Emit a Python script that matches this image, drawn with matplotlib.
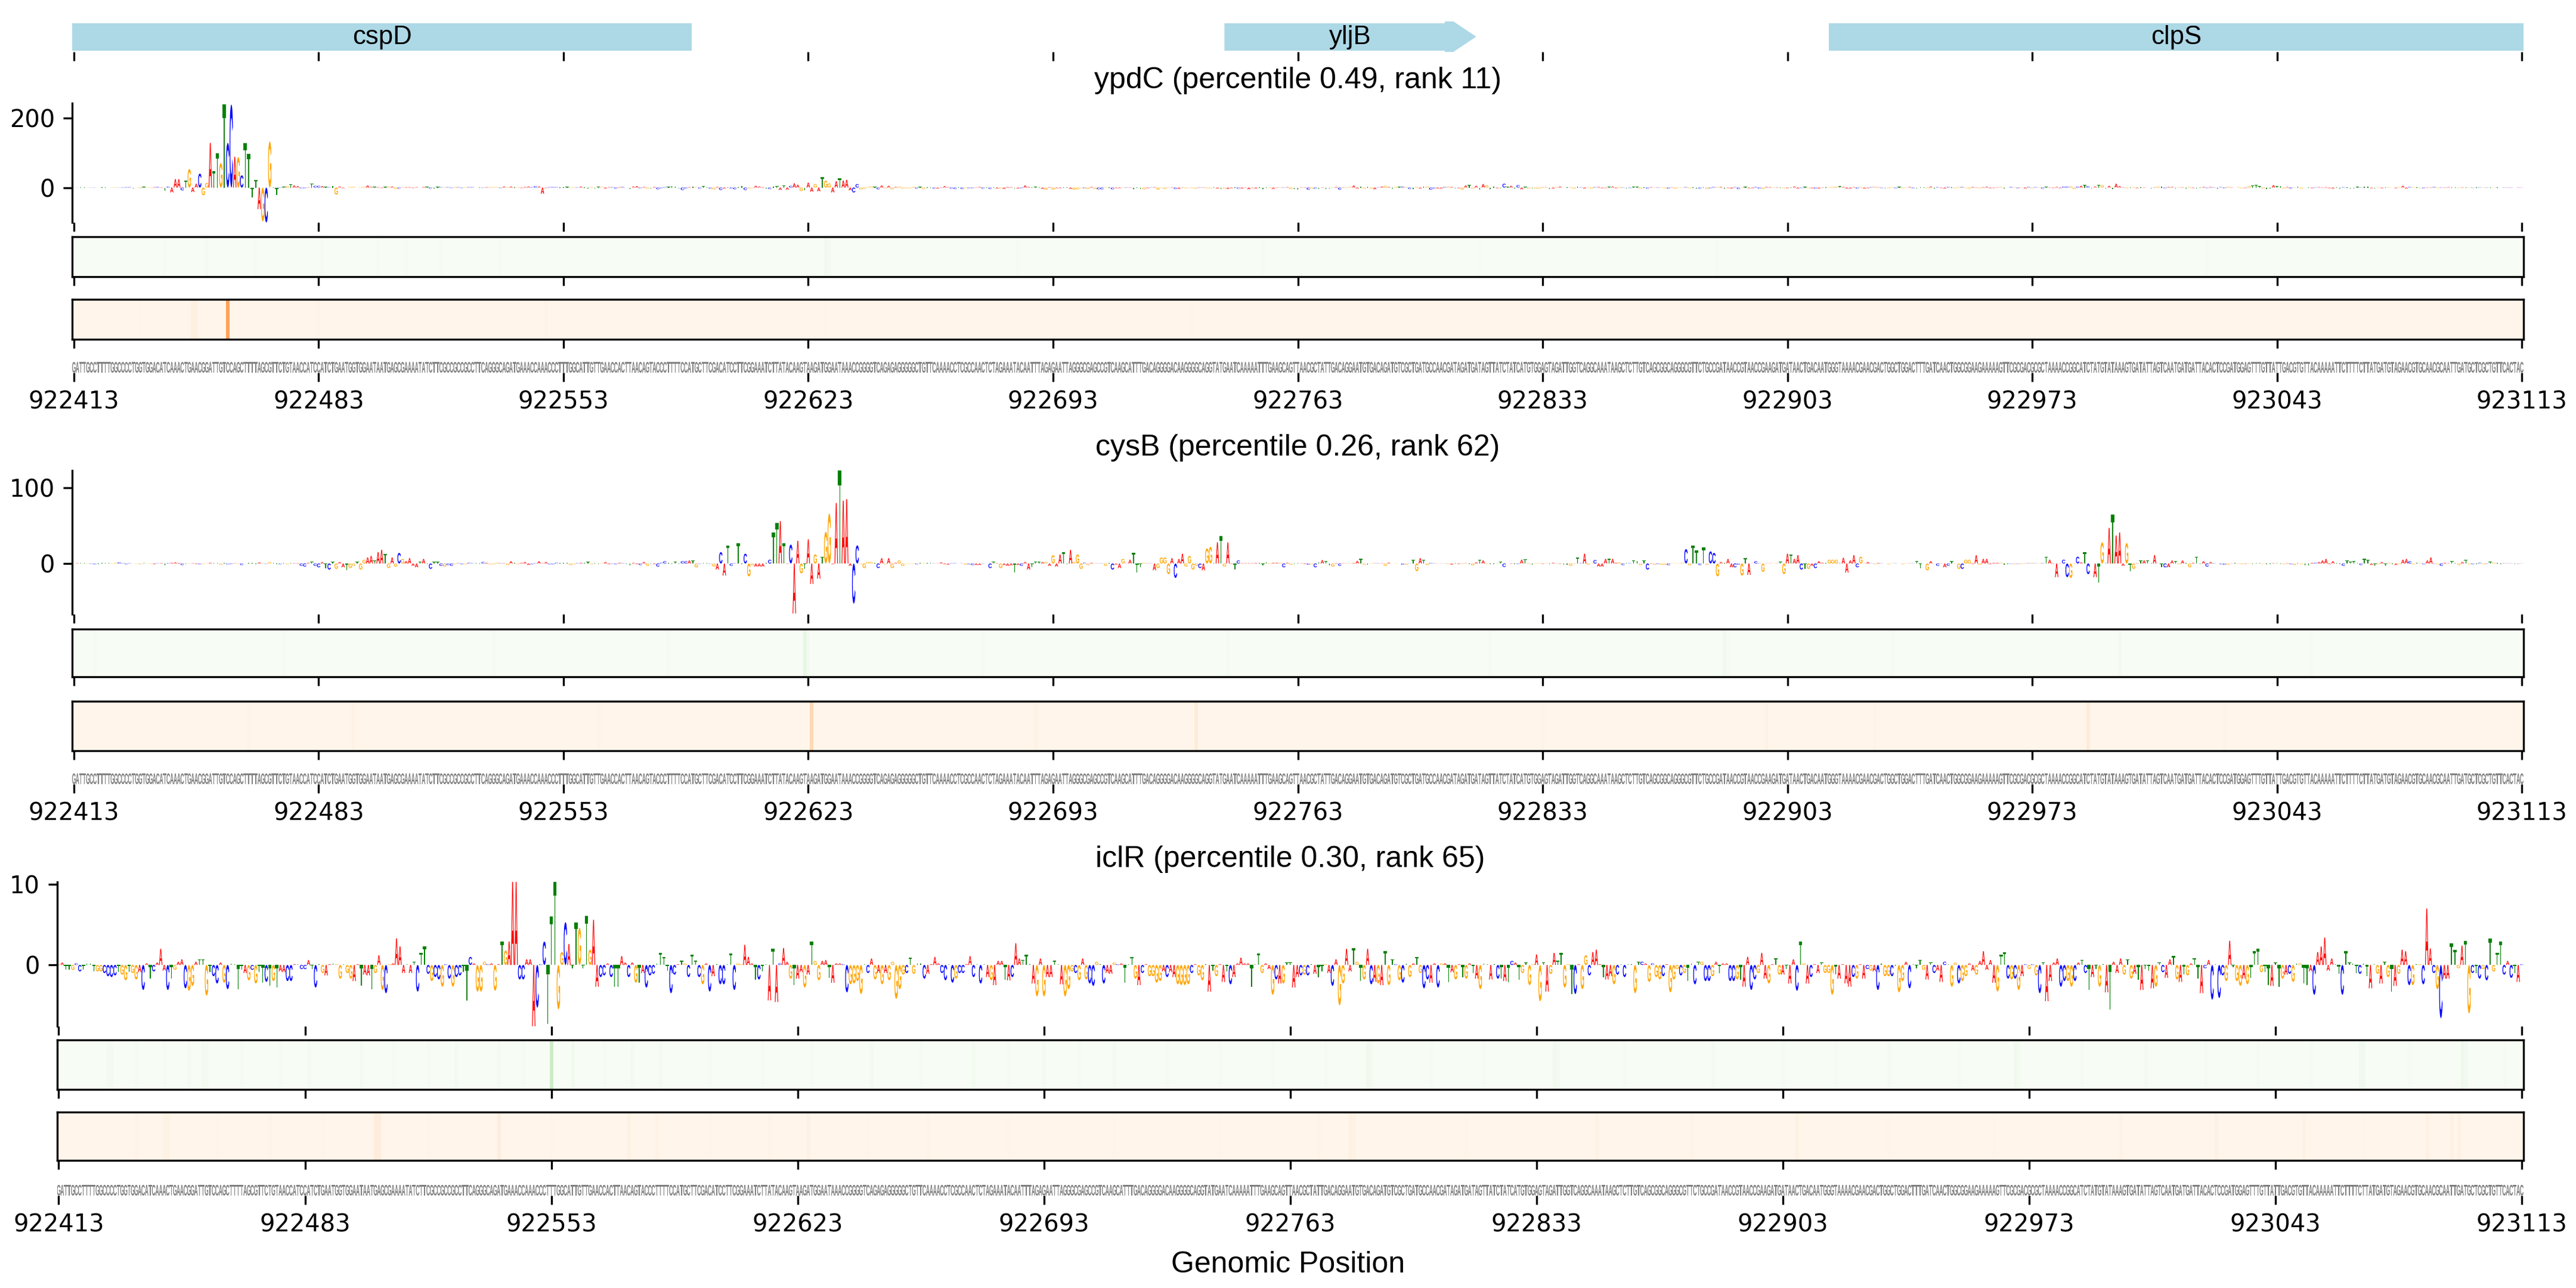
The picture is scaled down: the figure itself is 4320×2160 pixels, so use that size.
import numpy as np
import matplotlib
matplotlib.use("Agg")
import matplotlib.pyplot as plt
from matplotlib.font_manager import FontProperties
from matplotlib.patches import PathPatch, Polygon
from matplotlib.textpath import TextPath
from matplotlib.transforms import Affine2D

W, H = 4320, 2160
START = 922413
tick_pos = list(range(0, 701, 70))
tick_labels = [str(START + p) for p in tick_pos]

# genes (positions relative to window start)
gene_names = ["cspD", "yljB", "clpS"]
gene_start = [-0.5, 329, 501.8]
gene_end = [176.7, 401, 700.5]
gene_arrow = [False, True, False]

seq = (
    "GATTGCCTTTTGGCCCCTGGTGGACATCAAACTGAACGGATTGTCCAGCTTTTAGCGTTCTGTAACCATC"
    "CATCTGAATGGTGGAATAATGAGCGAAAATATCTTCGCCGCCGCCTTCAGGGCAGATGAAACCAAACCCT"
    "TTGGCATTGTTGAACCACTTAACAGTACCC"
    "TTTTCCATGCTTCGACATCCTTCGGAAATCTTATACAAGT"
    "AAGATGGAATAAACCGGGGTCAGAGAGGGGGCTGTTCAAAACCTCGCCAACTCTAGAAATACAATTTAGA"
    "GAATTAGGGCGAGCCGTCAAGCATTTGACAGGGGACAAGGGGCAGGTATGAATCAAAAATTTGAAGCA"
    "GTTAACGCTATTGACAGGAATGTGACAGATGTCGCTGATGCCAACGATAGATGATAGTTATCTATCATGT"
    "GGAGTAGATTGGTCAGGCAAATAAGCTCTTGTCAGCGGCAGGGCGTTCTGCCGATAACCGTAACCGAAGA"
    "TGATAACTGACAATGGGTAAAACGAACGACTGGCTGGACTTTGATCA"
    "ACTGGCGGAAGAAAAAGTTCGCGACGCGCTAAAACCGGCATCTATGTATAAAGTGATATTAGTCAATGAT"
    "GATTACACTCCGATGGAGTTTGTTATTGACGTGTTACAAAAATTCTTTTCTTATGATGTAGAACGTGCAA"
    "CGCAATTGATGCTCGCTGTTCACTAC"
)

ypdc_vals = [
    .3, .3, .3, .3, .5, .5, .5, -.5, .8, .8,
    -.5, .8, 1, -.5, 1, 1.5, 1.5, -3, .5, -2,
    2, -.8, -1, 1.5, 2, -1, -9, 3, -14, 24,
    24, -8, 19, 53, -13, 11, 40, -22, 13, 128,
    47, 98, 70, 238, 128, 238, 88, 87, 35, 128,
    96, -28, 22, -62, -97, -100, 132, .5, -22, 1,
    2, 4, 10, 6, 4, -2, -2, 1, 12, 5,
    5, 4, 2, 1.5, 5, -20, 3, -2, -1.5, 2,
    2, -1.5, 1.5, 2, 6, 2, 2, 1.5, -1.5, 2,
    3, 3, -4, -3, 2, 1.5, 1.5, -1.5, 1.5, -1.5,
    2, 2, -3, -2, 2, 1.5, 1.5, 1.5, -1.5, 2,
    1.5, -1.5, 1.5, 1.5, 1.5, -1.5, 1.5, -1, 1.5, 1.5,
    1.5, 1.5, -1.5, 3, 1.5, 3, 1.5, 1.5, -1.5, 2,
    3, 1.5, 4, 3, -18, -1.5, 1.5, 2, 1.5, 1.5,
    1.5, 2, -1.5, 1.5, 1, 3, 1.5, -3, 1.5, -2,
    2, 2, -3, 1.5, 1.5, -3, 1.5, 2, -1.5, -4,
    3, 4, -2, 2, -3, -3, 2, -5, -2, 1.5,
    2, 5, 3, -3, -7, -3, 1.5, 3, 1.5, -3,
    4, 1.5, -3, -5, 2, -7, -3, 1.5, -3, -5,
    1.5, 5, -7, -3, -1.5, 5, 3, 1.5, -3, -4,
    3, 4, -7, 6, -6, 5, 12, 8, -10, -8,
    14, -12, 10, -11, 30, 20, 12, -14, 18, 26,
    20, 22, -8, -14, 10, -5, -4, 2, 3, 2,
    -5, 6, -2, 5, -5, 2, 3, -3, -2, -2,
    2, -3, 2, -4, 1.5, 1.5, -3, -3, 1, 4,
    1.5, -3, -4, 1, -4, -2, -2, -2, 1, 2,
    -3, 1, -4, 1, -3, -3, -4, 2, 1.5, -3,
    -3, -2, 6, 2, 1.5, 2, 1, -4, -6, 1.5,
    -6, -2, -2, 1.5, 1, -4, -6, -5, -1.5, -2,
    -4, 2, -4, -5, -5, 1, 1, -5, -2, -2,
    1, 1, 1, -4, 1, -4, -5, -2, 1, 1.5,
    -6, -1.5, -4, 1, 1, -4, -4, 1, -2, 1,
    -2, -3, 1, 1, -2, -2, 1, -3, -4, -3,
    -4, -2, 1, -3, -3, 1, -5, -1.5, -3, 1,
    -4, 1, -1.5, -4, 1, 1.5, 1, 1.5, -4, -4,
    -6, 1, 1, -6, -3, -3, -4, 1, -4, -2,
    1, 2, -6, 1, 1.5, 2, 6, -3, 3, -3,
    3, -3, -5, 1, 3, 5, 2, -3, 2, 2,
    3, 2, -4, -4, 2, -3, 3, 3, -6, -3,
    -3, -3, 2, 3, 2, -2, -2, -6, 6, 8,
    -3, 5, -6, 10, 7, -5, 3, -2, -2, 11,
    2, 5, -3, 7, -5, 2, -3, -2, -3, -3,
    1, 2, -5, -3, 2, 3, -1.5, 1, 1.5, -3,
    3, 1, -3, 1.5, -3, 1.5, 2, -2, -1.5, 2,
    3, -2, 2, 1, -3, -1.5, 2, 2, -3, 1,
    -3, 1.5, 1, 1, 1, -2, -3, 1, -3, 1,
    1, 1.5, -2, 1, -3, -3, 1.5, -4, -2, 2,
    1.5, 2, -2, -1.5, -3, 1.5, -4, 1, 2, -2,
    -2, 2, -3, -4, 2, 1.5, 1, 1, 1.5, -2,
    -2, 1.5, 3, -3, -1.5, 2, -2, -2, -3, -3,
    1, 1.5, 1.5, 2, 3, 4, 2, -3, -3, 1.5,
    -3, 2, -3, -2, 1.5, 3, 1, -1.5, -2, -2,
    1.5, -2, 2, -2, 1, 2, -2, -3, 1.5, 1,
    -2, 3, -2, 1.5, -1.5, -3, 2, 1, -2, 2,
    2, -1.5, -3, 2, 1, -2, 1.5, 2.5, -2, -1.5,
    1, 2, -2.5, -1.5, 2, 1.5, -2, 1, -3, 2,
    -2, 1.5, 1, -3, 2, 1, -1.5, 2, -2, 3,
    3, 4, -4, 3, 5, 7, 4, -3, 3, 8,
    7, -3, 5, -4, 11, 4, 1, -2, 1.5, 1.5,
    -2, 1.5, 1, -1.5, -2, 1, 3, 3, -2, 2,
    2, -2, 1.5, 1, -2, 2, -1.5, -2.5, 1, 2,
    -1.5, 2, 1, -2, 1.5, -2, 2.5, 1, -1.5, 1.5,
    -2, -1.5, 4, 6, 8, 4, -3, -5, -3, 7,
    4, 5, -3, 2, -3, 1, 3, -3, -1.5, 1,
    -2, 1, 1.5, 1, 1.5, -2, -3, 1, -2, 1.5,
    1.5, -2, -3, 2, 1, 3, 3, -2, -2, 1.5,
    -2, 1, 1.5, -1.5, -2, 1.5, 5, -3, 2, 1.5,
    1, -1.5, -2, 1, 1, 2, -1.5, 1, 1, 1.5,
    1, 1, -1.5, 1, 1, 1, -1, 1, 1, .8,
    -.8, .8, .8, .8, -.8, .8, .8, .8, -.8, .8,
    .5,
]

cysb_vals = [
    .3, .5, .8, 1, .5, -.5, -1, -.5, 1, 1,
    .5, -.5, 1, 1.5, .5, -1, .5, .4, -.5, -1,
    .5, .3, -.6, -1, .4, .6, -2, .6, 1, 1.5,
    .8, -2, -1, .3, .5, -.8, -1, -.6, .4, 1,
    1, .5, -1.5, .5, -1, -.8, .4, -.6, -2, .4,
    1, .8, -1, 1.5, .5, -.5, 2, .6, -.5, -1,
    .5, -1, 1, .5, .5, -3, -4, 1, 2, -3,
    -5, 2, -6, -8, 2, -7, 2, -5, -9, -6,
    -3, 2, -8, 5, 8, 10, 4, 15, 18, 13,
    -6, 8, -4, 14, 6, 3, 7, -3, -5, 2,
    6, -1, -7, 2, 2, -3, -4, -2, -3, -1,
    .5, -1, -1, 1, .5, .5, -1, 2, 1, -1,
    -1, 1, .5, .5, -2, 3, .5, -1, 1, 2,
    -2, -1, .5, 3, .5, 2, -1, -1, 1, .5,
    1, 1, -2, -1, .5, 1, 1, 2, -1, 1,
    -1, .5, 2, -1, -.5, -1, 1, .5, -1, -2,
    1, -1, -2, 2, -3, -1, -1, -4, 1, 3,
    1, -1, 2, -.5, 3, 3, 4, 4, -5, -.5,
    .5, .5, -.4, -4, -8, 15, -16, 24, -3, .5,
    27, -1, 13, -17, -2.5, -4, -4, -4, .5, 5,
    41, 54, 56, 27, -.5, 25, -66, 30, -13, -7,
    32, -27, 12, -20, 9, 42, 66, -1, 80, 123,
    83, 85, -3, -53, 24, -1, -6, 2, 2, 1,
    -6, 7, -1, 7, -6, 1, 4, -3, -.5, -.5,
    -.5, -1, 1, .5, .5, .5, .3, .3, 1.5, -1,
    -1.5, .5, .5, .3, .3, -1.5, -1, -2, -2, -2,
    .3, .3, -6, 2, .5, -6, -2, -3, -2.5, -12,
    -2, -3, 2, -8, -5, 2, 2, 2, 2, -3,
    11, -4, 12, 15, -1, 18, 2, 12, -7, 1,
    -2, 1, .5, .3, .3, -3, 1, -8, -1.5, -6,
    6, .3, 5, 14, -12, -5, 1, .3, .3, -9,
    -6, 8, 8, -14, 7, -19, 6, 13, -4, 10,
    -8, -3, -6, -9, 20, 22, .5, 28, 36, -4,
    28, -.5, -8, 4, .5, .5, .5, .5, .8, .5,
    -2.5, 1.5, -.8, 1, 1, 1, -5, 1, -1.5, -1,
    .5, .4, -.8, -1.5, -1, -5, 1.5, 4.5, 3, -2,
    -4, .6, -3, .4, .5, .5, .7, 3.5, 6, -1.5,
    -1.5, .4, .4, .4, .4, -3, 1.2, .3, .3, .3,
    -1.5, -1.5, .3, 5, -10, 7, 5, -2, .8, .4,
    .2, .2, .2, -.9, -1.5, .6, -.8, -.8, .4, -.8,
    -2.5, 1.5, 5, 4, -.7, -.7, -.8, .2, 2, -4.5,
    .2, -.5, -1, -.7, 5, 5.5, -.8, -1.5, .5, .5,
    -.6, .5, -1, 1, -.6, -.6, -1.8, -1.5, -3, -.7,
    8, .5, 13, -1.5, .3, 4.5, -4, -4, 6, 6,
    6, 1, 1.5, -2, .5, .5, 4, 3.5, -2, 4,
    -8, .5, -1.5, -.8, -1.5, -1.5, -2, .2, .3, .4,
    1, 19, -2.5, 24, 17, -2, 21, -1.5, 16, 14,
    -17, 2, .7, 6, -5, -5, -1.5, -16, 7, -15,
    .2, 3, .4, -11, .3, .3, .3, .3, 2, -14,
    13, 12, 6, 11, -8, -7, -7, -3, -6, 3,
    1, .5, 5, 5, 5, 1, 7.5, -12, 4, 11,
    -5, 9, .3, 2, .3, -1, .8, .3, .3, -1,
    .4, .3, .3, -1, .3, .3, .3, 3, -6, .3,
    -9, 3, .3, -3, .3, -5, -3, 3, .3, -7,
    -7, 5, 5, -.8, 11, -1.5, 6, 6, -1, 1,
    1, 1, -1.5, -1, -.5, -1, -.5, -.8, .3, .5,
    1, .3, .4, .5, 9, 5, -.5, -18, .3, 5,
    -18, -19, -.5, 9, 1.5, 15, -14, .2, -18, -25,
    28, 1, 47, 65, 37, 41, -3, 27, -10, -7,
    .5, 4, 4, 4, .5, 11, .3, -5, -5, -5,
    4, 3, -1, 4, .5, -5, 1, 9, -.5, 3,
    -4, 2, .5, .3, -1, -1.5, -1.5, .3, .5, .5,
    -1, -.5, .5, -1, .5, .6, -.6, -1, -1, .5,
    .5, -1, -1, .5, -1, -2, 1, -1, -2, -2,
    1, 1, 2, 4, 6, -1, 3, .5, -1, -3,
    4, 2, 3, .5, -2, 6, 5, -2, -3, -1,
    2, -3, 1, -1, -2, -1, 5, 6, 3, -1,
    1, .5, -1, 4, 8, -.5, -1, -3, 1, .5,
    3, 1, -2, 2, 5, -1, -1, -1, 1, -1,
    -.5, 2, 1, .5, -1, .4, .3, .3, -1, -.4,
    .2,
]

iclr_vals = [
    .1, .3, -.6, -.6, -.6, .2, -.8, -.6, .2, .2,
    -.8, -.8, -.8, -1, -1.4, -1.5, -1.3, -.9, -1.2, -1.9,
    -.9, -1, -1.8, -.9, -3.1, .2, -1.7, -.8, .3, 2,
    -.7, -3.1, -1.7, -.6, .4, .7, -2.9, -3.2, -2.6, .4,
    .7, .7, -3.8, -.9, -1.4, -2.3, .3, -2.2, -3, .2,
    .1, -3, -.6, -1, -1.9, -.6, -2.3, -.9, -2.2, -2.1,
    -2.6, -2, -2.8, -.8, -.9, -2, -2, .1, .1, -.5,
    -.5, .6, -.5, -2.8, .1, -1, -1.3, .1, .2, .1,
    -1.7, .1, -1, -1.7, -2, .1, -2.6, -1.2, -1.3, -3,
    -1, 1.2, -3.1, -3.5, .1, .2, 3.3, 2.3, -1, .1,
    -1, .4, -3.3, 1.5, 2.3, -1.1, -2, -1.5, -1.8, -2.7,
    .1, -1.7, -2.7, -1.5, -1.3, -.9, -4.4, 1, .2, -3.3,
    -3.3, .4, .1, .2, -3.2, .1, 2.9, 1.8, 2.9, 10.3,
    10.3, -1.8, -1.8, .7, .7, -7.6, -5.3, .1, 2.9, -7.3,
    6, 10.3, -5.5, 1.6, 5.3, 2.6, -.4, 5.3, 4.6, -.4,
    6.1, 1.9, 5.6, -2.7, -1.5, -1.3, .2, -1.5, -2.7, -2.7,
    1.1, .3, -1.5, .3, -2.2, -2.2, -1, -2.8, -1.3, -1.1,
    .2, 1.5, 1, -.7, -3.5, -1.2, .1, .5, .2, -1.5,
    1.3, .5, -1.5, -2.4, .2, -3.3, -1.4, .1, -2.4, -2.4,
    .1, 1.4, -3.1, .2, .1, 2.5, 1, .2, -1.8, -1.8,
    -.8, .1, -4.4, 2, -4.6, .2, 2.1, .4, -1.7, -2.5,
    -1.7, -.9, -2.8, -1.2, 2.9, .5, -1.9, .5, .6, -1.6,
    -2.2, .2, .2, .1, -3.4, -2.4, -2.3, -2, -3.6, .1,
    -1, .8, -1.8, -1, -2.4, -1, -1.9, .4, -4.2, -3,
    -1.2, -1, .9, -1.1, .2, .2, -1.7, -1.1, .1, 1,
    .2, -1, -1.9, .1, -2.2, -1.7, -1, -1, .1, 1.1,
    -1.5, .1, -2.3, .1, -1.5, -1.9, -2.5, .5, .5, -1.8,
    -1.9, -1.5, 2.7, .8, .6, 1.3, .1, -2.3, -3.9, .8,
    -3.9, -1.5, -1.5, .5, .1, -2.4, -3.9, -3, -.8, -1,
    -1.9, .8, -1.8, -2.3, -2.6, .4, .1, -2.3, -1, -1.1,
    .3, .1, .2, -2.2, .1, 1, -1.7, -2.5, -1, .1,
    -1.4, -1.4, -2.2, -2, -.8, -1.5, -.9, -1.5, -2.4, -2.5,
    -2.5, -2.4, -1, .1, -1.3, -1.9, .1, -3.3, -.7, -1.4,
    .1, -2.1, -.8, -2.4, -1.5, .2, .9, .2, .2, -2.7,
    .1, 1.4, -1, .2, -.5, -3.7, -1.8, -2.3,
    -2.3, .3, .3, -2.8, -1.5, -1.3, -1.2, -1.3, .1, -1.1,
    -1.5, -.8, .1, -1, -2.6, .7, -5, -2.3, 2, -.8,
    2.1, .4, -2, -1.8, 2, -2.4, -2.1, -2.3, -2.5, 1.7,
    -2.5, .7, .1, -1.9, -2.2, .2, -1.5, .2, 1, -1,
    -2.9, -1.8, -2.2, .2, -2.8, .2, .2, -2.1, -.9, -1.8,
    .1, -1.5, -1.7, .2, -1, -1.7, -3, .2, .1, -1.8,
    .1, -1.7, -1.7, -2, -2.1, .5, .3, -1.8, -1, .3,
    -2.5, .1, 1.3, -4.5, .3, -3.3, -1.1, 1.5, .5, 1.5,
    -2.8, .1, -3.6, -3.6, .1, -3, 1.2, -1.3, 1.6, 1.9,
    .1, -1.5, -1.8, -1.4, -2.4, -1.2, .1, -1.5, .1, .1,
    -3.5, .4, .4, .2, -2.1, .2, -1.5, -1.8, -1.4, .1,
    -3.4, -1.8, -.5, -1.3, -1, -2, .2, -2.4, .4, .4,
    -2, -2, -1.4, .4, -1, .2, .2, -2, -2, -1.8,
    -1.8, -2.7, 1, -3.1, -1.8, -1, 1.5, -1.7, -2.3, .1,
    .8, -1.2, -1.2, -.5, -2.3, .7, -3.2, 2.9, .2, -2.3,
    -1.5, .1, -1, .3, -1, -1, -3.7, -1.2, -1.7, .1,
    -2.3, -2.7, -1.5, -1.7, .1, -1.7, -.5, -.7, -.8, -3.1,
    .2, -1.4, -1.4, -1.4, -.1, -3.4, -2, .4, -2.9, .1,
    -.4, .6, -.6, -1.8, .3, -1, -.7,
    -2.1, .4, .1, -2.7, .3, -2.3, -2, -1.4, .2, -.7,
    -1.2, .5, 1.7, -.6, .6, -2.2, -3.3, 1.3, 1.6, -1.7,
    -1.8, -1.7, -3.1, -1.4, .1, -.5, .1, -1.3, -3.5, .3,
    -4.5, -2, .3, .8, -2.7, -2, -2, -2.7, -2, .3,
    .6, -1, -3.1, -1.5, -.5, -2.7, .1, -3.4, -5.5, .4,
    -1, .8, -1.2, .7, -1.7, -1.1, -1.8, -3.1, -.5, -.7,
    -2.9, -2.7, .3, -.9, -1.6, .7, 1.1, -1.8, -2.1, -1.2,
    -1.3, .2, .8, -1.7, -3.5, -.4, .6, -4.3, .1, -4.1,
    -1.3, -2, 3, -.3, -2, -2.6, -1.7, -2.4, -1.6, 1.7,
    2, -.9, -.9, -2.5, -2.6, .3, -2.7, -1.7, -1.2, -1.1,
    -2.1, .2, .2, -2.3, -2.5, -.8, -3.7, 1.6, 2.3, 3.4,
    -.7, .8, .1, -1.1, -3.7, 1.7, .3, .2, -1, -1.1,
    .2, -1.4, -2.9, .1, -1.1, -2.3, .4, -1.5, -3.3, -2.6,
    -1.1, 1.9, 1.7, -2.5, -2.5, .1, .1, -2.4, 7, 2.05,
    -1, -3, -6.6, -1.7, -1.7, 2.7, 1.9, -.4, 2.4, 3,
    -6, -1, -1, -1.7, -.5, -1.9, 3.3, -.8, 1.5, 2.9,
    -1.2, .5, -1.6, -1, -2.1, .1,
]

# heatmap stripes: positions and colour strength, everything else sits at zero
ypdc_green_pos = [26, 38, 52, 71, 87, 95, 105, 122, 215, 216, 270, 340, 402, 470, 610]
ypdc_green_val = [.01, .02, .01, .01, .01, .012, .01, .01, .04, .02, .01, .01, .012, .01, .01]
ypdc_orange_pos = [19, 34, 35, 44, 70, 135, 215, 320]
ypdc_orange_val = [.01, .04, .04, .42, .015, .015, .01, .01]

cysb_green_pos = [6, 60, 120, 170, 209, 210, 260, 330, 405, 472, 473, 520, 585, 640]
cysb_green_val = [.01, .015, .01, .015, .1, .02, .015, .018, .015, .04, .015, .015, .02, .015]
cysb_orange_pos = [50, 80, 150, 211, 275, 321, 420, 484, 515, 576, 615]
cysb_orange_val = [.012, .02, .015, .2, .025, .08, .015, .025, .015, .08, .015]

iclr_green_pos = [14, 15, 22, 30, 37, 41, 42, 52, 63, 71, 86, 95, 105, 113, 125, 132, 140, 146, 155, 163,
                  171, 185, 200, 214, 231, 245, 260, 270, 280, 290, 300, 315, 330, 345, 360, 372, 373,
                  390, 405, 425, 426, 445, 470, 490, 505, 520, 540, 556, 557, 575, 593, 610, 625, 640,
                  654, 655, 668, 683, 684, 695]
iclr_green_val = [.02, .02, .015, .01, .02, .03, .02, .012, .012, .025, .03, .012, .012, .02, .02, .012, .22,
                  .04, .012, .025, .03, .012, .012, .012, .03, .012, .03, .012, .025, .012, .02, .012, .012,
                  .012, .012, .04, .03, .012, .012, .04, .03, .012, .02, .012, .012, .02, .012, .04, .03,
                  .012, .02, .012, .012, .012, .05, .04, .012, .06, .035, .012]
iclr_orange_pos = [22, 30, 31, 45, 60, 75, 90, 91, 105, 125, 140, 162, 170, 185, 202, 213, 230, 247, 270,
                   300, 330, 358, 367, 368, 400, 437, 464, 494, 520, 550, 586, 613, 638, 655, 673, 680, 682]
iclr_orange_val = [.012, .025, .025, .01, .012, .01, .06, .06, .01, .06, .01, .035, .025, .01, .018, .03,
                   .01, .018, .01, .01, .01, .018, .03, .025, .01, .025, .018, .03, .01, .01, .025, .03,
                   .025, .01, .03, .03, .035]

titles = ["ypdC (percentile 0.49, rank 11)", "cysB (percentile 0.26, rank 62)", "iclR (percentile 0.30, rank 65)"]
ylims = [(-100, 242), (-67, 123), (-7.6, 10.3)]
yticks = [[0, 200], [0, 100], [0, 10]]

assert len(seq) == 701, len(seq)
assert len(ypdc_vals) == 701, len(ypdc_vals)
assert len(cysb_vals) == 701, len(cysb_vals)
assert len(iclr_vals) == 701, len(iclr_vals)

# pixel layout per row: left edge, logo, heat1, heat2, sequence strip (top, bottom)
RIGHT = 4232
rows = [
    (121, (173, 373), (397, 464), (502, 569), (607, 625)),
    (121, (789, 1030), (1055, 1135), (1176, 1259), (1297, 1315)),
    (95.5, (1479, 1721), (1744, 1827), (1865, 1946), (1987, 2005)),
]
colors = {"A": "red", "C": "blue", "G": "orange", "T": "green"}
SANS = "Liberation Sans"
TICK_FONT = "DejaVu Sans"

plt.rcParams["font.family"] = TICK_FONT
plt.rcParams["xtick.labelsize"] = 9.6
plt.rcParams["ytick.labelsize"] = 9.6
fig = plt.figure(figsize=(14.4, 7.2))


def px_axes(left, top, right, bottom):
    return fig.add_axes([left / W, 1 - bottom / H, (right - left) / W, (bottom - top) / H])


def unit_glyphs():
    # unit-square letter shapes, stretched to each height like a sequence logo
    font = FontProperties(family=SANS, weight="bold")
    out = {}
    for b in "ACGT":
        tp = TextPath((0, 0), b, size=1, prop=font)
        ext = tp.get_extents()
        out[b] = Affine2D().translate(-ext.x0, -ext.y0).scale(1 / ext.width, 1 / ext.height).transform_path(tp)
    return out


glyphs = unit_glyphs()


def draw_letter(ax, base, x, y0, h, color, width):
    shape = Affine2D().scale(width, h).translate(x - width / 2, y0).transform_path(glyphs[base])
    ax.add_patch(PathPatch(shape, fc=color, lw=0))


def set_x(ax, labels=False):
    ax.set_xlim(-0.5, 700.5)
    ax.set_xticks(tick_pos)
    ax.set_xticklabels(tick_labels if labels else [], family=TICK_FONT)


def draw_logo(ax, vals, ylim, ticks, title):
    for i, (b, v) in enumerate(zip(seq, vals)):
        if v >= 0:
            draw_letter(ax, b, i, 0, v, colors[b], 0.96)
        else:
            draw_letter(ax, b, i, v, -v, colors[b], 0.96)
    set_x(ax)
    ax.set_ylim(*ylim)
    ax.set_yticks(ticks)
    ax.tick_params(axis="y", labelfontfamily=TICK_FONT)
    for s in ["top", "right", "bottom"]:
        ax.spines[s].set_visible(False)
    ax.set_title(title, fontsize=12, family=SANS)


def draw_heat(ax, pos, val, cmap):
    arr = np.zeros(701)
    arr[pos] = val
    ax.imshow(arr[None, :], aspect="auto", cmap=cmap, vmin=0, vmax=1, interpolation="nearest",
              extent=(-0.5, 700.5, 0, 1))
    set_x(ax)
    ax.set_yticks([])


def draw_seq(ax):
    for i, b in enumerate(seq):
        draw_letter(ax, b, i, 0, 1, "gray", 1.0)
    set_x(ax, labels=True)
    ax.set_ylim(0, 1)
    ax.set_yticks([])
    for s in ax.spines.values():
        s.set_visible(False)


# gene track
ax = px_axes(121, 36, RIGHT, 87)
ax.set_ylim(0, 1)
for name, g0, g1, arrow in zip(gene_names, gene_start, gene_end, gene_arrow):
    if arrow:
        xy = [(g0, 0.04), (g1 - 9, 0.04), (g1 - 9, 0), (g1 - 6.5, 0), (g1, 0.5), (g1 - 6.5, 1), (g1 - 9, 1),
              (g1 - 9, 0.94), (g0, 0.94)]
    else:
        xy = [(g0, 0.04), (g1, 0.04), (g1, 0.94), (g0, 0.94)]
    ax.add_patch(Polygon(xy, closed=True, fc="lightblue", ec="none"))
    ax.text((g0 + g1) / 2, 0.49, name, ha="center", va="center", fontsize=10.5, family=SANS)
set_x(ax)
ax.set_yticks([])
for s in ax.spines.values():
    s.set_visible(False)

logo_vals = [ypdc_vals, cysb_vals, iclr_vals]
green_pos = [ypdc_green_pos, cysb_green_pos, iclr_green_pos]
green_val = [ypdc_green_val, cysb_green_val, iclr_green_val]
orange_pos = [ypdc_orange_pos, cysb_orange_pos, iclr_orange_pos]
orange_val = [ypdc_orange_val, cysb_orange_val, iclr_orange_val]

for r, (left, logo_y, heat1_y, heat2_y, seq_y) in enumerate(rows):
    draw_logo(px_axes(left, logo_y[0], RIGHT, logo_y[1]), logo_vals[r], ylims[r], yticks[r], titles[r])
    draw_heat(px_axes(left, heat1_y[0], RIGHT, heat1_y[1]), green_pos[r], green_val[r], "Greens")
    draw_heat(px_axes(left, heat2_y[0], RIGHT, heat2_y[1]), orange_pos[r], orange_val[r], "Oranges")
    draw_seq(px_axes(left, seq_y[0], RIGHT, seq_y[1]))

fig.text(0.5, 1 - 2121 / H, "Genomic Position", ha="center", va="center", fontsize=12, family=SANS)

fig.savefig("out.png", dpi=300)
